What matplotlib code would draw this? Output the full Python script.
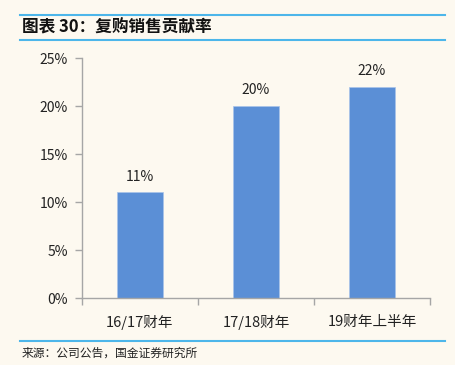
import matplotlib.pyplot as plt
from matplotlib.lines import Line2D

plt.rcParams['font.family'] = ['Noto Sans CJK SC', 'DejaVu Sans']

categories = ['16/17财年', '17/18财年', '19财年上半年']
values = [11, 20, 22]
yticks = [0, 5, 10, 15, 20, 25]

bg = '#fdf9f0'
bar_color = '#5b8fd6'
line_color = '#4db6ea'
axis_color = '#a6a6a6'

fig = plt.figure(figsize=(4.56, 3.65), dpi=100, facecolor=bg)
ax = fig.add_axes([82 / 456, 1 - 298 / 365, 348 / 456, 240 / 365])
ax.set_facecolor(bg)

x = list(range(len(categories)))
ax.bar(x, values, width=0.39, color=bar_color, edgecolor='#a9c4ea', linewidth=0.5)
for xi, v in zip(x, values):
    ax.text(xi, v + 0.9, f'{v}%', ha='center', va='bottom', fontsize=10, color='#222222')

ax.set_xlim(-0.5, len(categories) - 0.5)
ax.set_ylim(0, 25)
ax.set_yticks(yticks)
ax.set_yticklabels([f'{t}%' for t in yticks], fontsize=10, color='#222222')
ax.set_xticks(x)
ax.set_xticklabels(categories, fontsize=10.5, color='#222222')
ax.tick_params(axis='x', length=0, pad=12)
ax.tick_params(axis='y', length=5, color=axis_color, width=1, pad=5)
ax.set_xticks([-0.5, 0.5, 1.5, 2.5], minor=True)
ax.tick_params(axis='x', which='minor', length=5, color=axis_color, width=1)

for s in ['top', 'right']:
    ax.spines[s].set_visible(False)
for s in ['left', 'bottom']:
    ax.spines[s].set_color(axis_color)
    ax.spines[s].set_linewidth(1)

# header / footer rules
for y in [1 - 15 / 365, 1 - 40 / 365, 1 - 341 / 365]:
    fig.add_artist(Line2D([20 / 456, 445 / 456], [y, y], color=line_color, lw=1.5,
                          transform=fig.transFigure))

fig.text(22 / 456, 1 - 27 / 365, '图表 30：复购销售贡献率', fontsize=12, fontweight='bold',
         style='italic', va='center', ha='left', color='#111111')
fig.text(22 / 456, 1 - 353 / 365, '来源：公司公告，国金证券研究所', fontsize=8.5,
         va='center', ha='left', color='#222222')

fig.savefig('out.png', dpi=100, facecolor=bg)
